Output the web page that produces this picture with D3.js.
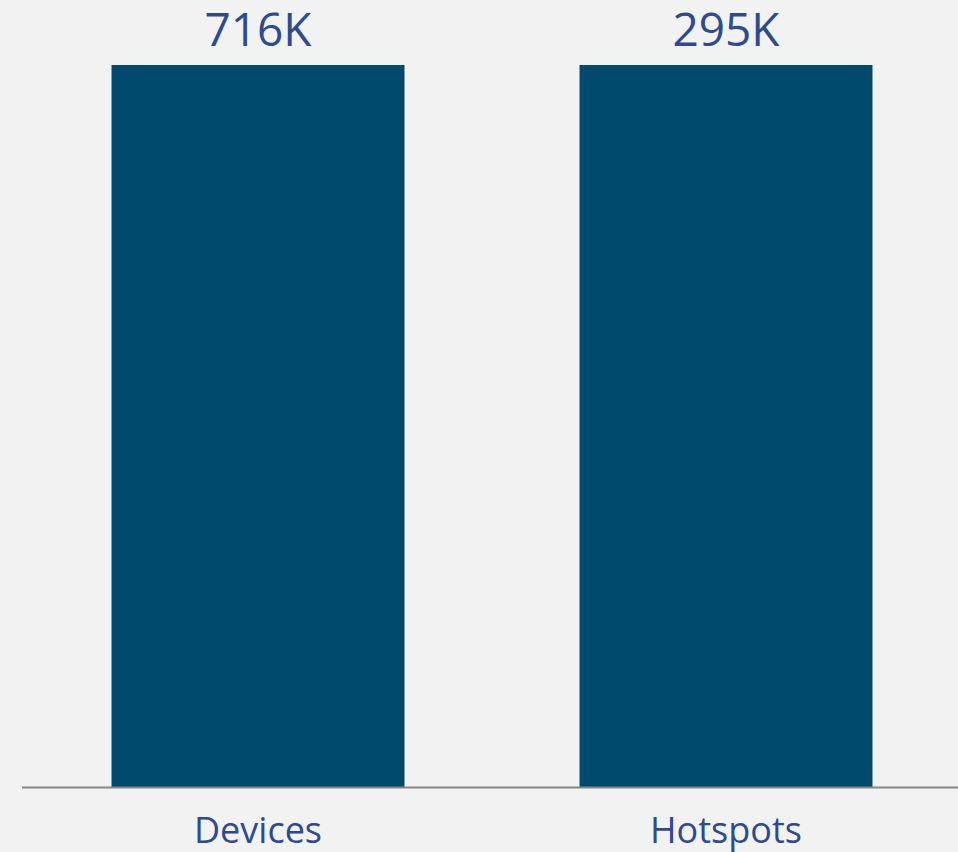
<!DOCTYPE html>
<html>
<head>
<meta charset="utf-8">
<script src="https://cdn.jsdelivr.net/npm/d3@7"></script>
<style>
	html, body { margin: 0; padding: 0; background: #f2f2f2; }
	svg { display: block; }
</style>
</head>
<body>
<div id="chart"></div>
<script>
// Dane wykresu
var categories = ["Devices", "Hotspots"];
var valueLabels = ["716K", "295K"];
// Oba słupki na obrazku mają tę samą wysokość (100%)
var barShare = [100, 100];

var width = 958;
var height = 852;

var svg = d3.select("#chart")
	.append("svg")
	.attr("width", width)
	.attr("height", height);

svg.append("rect")
	.attr("width", width)
	.attr("height", height)
	.attr("fill", "#f2f2f2");

var xScale = d3.scaleBand()
	.domain(categories)
	.range([24, 960])
	.paddingInner(0.374)
	.paddingOuter(0.187);

var yScale = d3.scaleLinear()
	.domain([0, 100])
	.range([787, 65]);

var data = categories.map(function (c, i) {
	return { name: c, share: barShare[i], label: valueLabels[i] };
});

// Słupki
svg.selectAll(".bar")
	.data(data)
	.enter()
	.append("rect")
	.attr("class", "bar")
	.attr("x", function (d) { return xScale(d.name); })
	.attr("y", function (d) { return yScale(d.share); })
	.attr("width", xScale.bandwidth())
	.attr("height", function (d) { return yScale(0) - yScale(d.share); })
	.style("fill", "#004a6e");

// Oś pozioma
svg.append("line")
	.attr("x1", 22)
	.attr("x2", width)
	.attr("y1", yScale(0) + 0.5)
	.attr("y2", yScale(0) + 0.5)
	.style("stroke", "#868686")
	.style("stroke-width", 2);

// Etykiety wartości
svg.selectAll(".value-label")
	.data(data)
	.enter()
	.append("text")
	.attr("class", "value-label")
	.attr("x", function (d) { return xScale(d.name) + xScale.bandwidth() / 2; })
	.attr("y", function (d) { return yScale(d.share) - 19; })
	.attr("text-anchor", "middle")
	.style("font-family", "'Open Sans', sans-serif")
	.style("font-size", "46px")
	.style("fill", "#2f4b8f")
	.text(function (d) { return d.label; });

// Etykiety kategorii
svg.selectAll(".cat-label")
	.data(data)
	.enter()
	.append("text")
	.attr("class", "cat-label")
	.attr("x", function (d) { return xScale(d.name) + xScale.bandwidth() / 2; })
	.attr("y", 843)
	.attr("text-anchor", "middle")
	.style("font-family", "'Open Sans', sans-serif")
	.style("font-size", "36px")
	.style("fill", "#2f4b8f")
	.text(function (d) { return d.name; });
</script>
</body>
</html>
